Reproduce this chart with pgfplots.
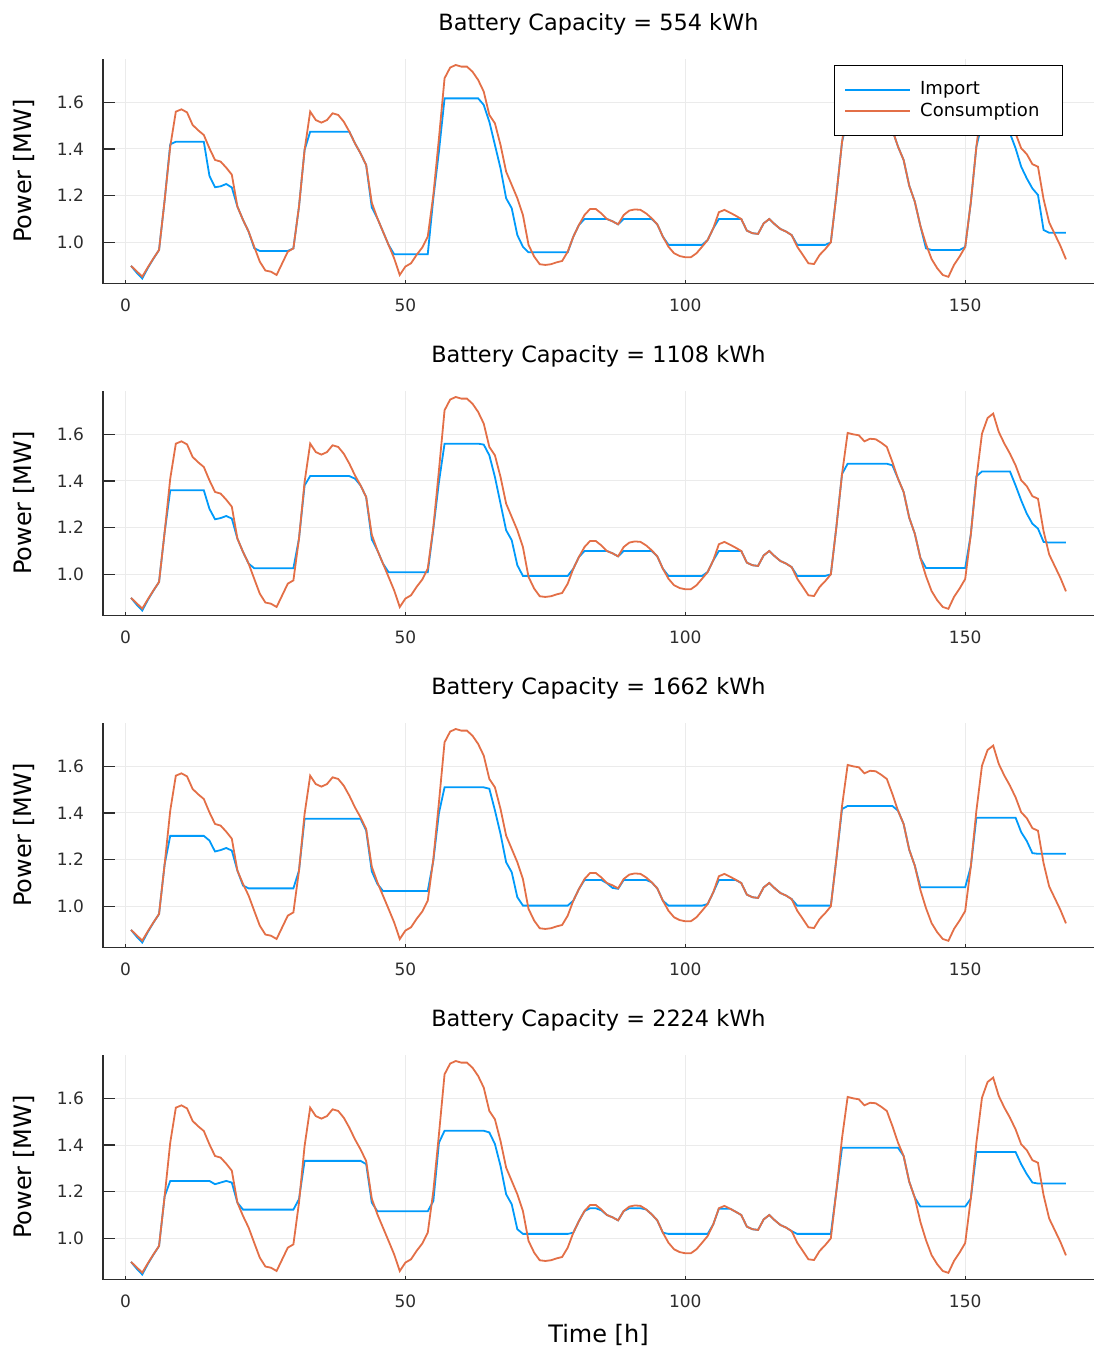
\documentclass[border=0pt]{standalone}
\usepackage{fontspec}
\setmainfont{DejaVu Sans}
\usepackage{pgfplots}
\usepackage{pgfplotstable}
\pgfplotsset{compat=1.18}
\definecolor{cimp}{RGB}{0,154,250}
\definecolor{ccons}{RGB}{227,111,71}
\definecolor{axc}{RGB}{45,45,45}

\pgfplotstableread{
h c i1 i2 i3 i4
1 0.899 0.899 0.899 0.899 0.899
2 0.876 0.870 0.870 0.870 0.870
3 0.853 0.845 0.845 0.845 0.845
4 0.893 0.890 0.890 0.890 0.890
5 0.931 0.930 0.930 0.930 0.930
6 0.967 0.967 0.967 0.967 0.967
7 1.180 1.180 1.180 1.180 1.180
8 1.410 1.420 1.360 1.302 1.246
9 1.560 1.431 1.360 1.302 1.246
10 1.570 1.431 1.360 1.302 1.246
11 1.557 1.431 1.360 1.302 1.246
12 1.503 1.431 1.360 1.302 1.246
13 1.480 1.431 1.360 1.302 1.246
14 1.460 1.431 1.360 1.302 1.246
15 1.403 1.285 1.281 1.282 1.246
16 1.353 1.236 1.236 1.235 1.232
17 1.346 1.240 1.241 1.241 1.239
18 1.320 1.250 1.250 1.250 1.246
19 1.290 1.235 1.239 1.239 1.239
20 1.153 1.153 1.153 1.153 1.153
21 1.096 1.096 1.096 1.089 1.123
22 1.046 1.046 1.046 1.077 1.123
23 0.981 0.975 1.026 1.077 1.123
24 0.917 0.963 1.026 1.077 1.123
25 0.879 0.963 1.026 1.077 1.123
26 0.874 0.963 1.026 1.077 1.123
27 0.860 0.963 1.026 1.077 1.123
28 0.910 0.963 1.026 1.077 1.123
29 0.960 0.963 1.026 1.077 1.123
30 0.974 0.974 1.026 1.077 1.123
31 1.153 1.153 1.153 1.153 1.168
32 1.396 1.396 1.381 1.375 1.332
33 1.560 1.474 1.421 1.375 1.332
34 1.524 1.474 1.421 1.375 1.332
35 1.513 1.474 1.421 1.375 1.332
36 1.524 1.474 1.421 1.375 1.332
37 1.553 1.474 1.421 1.375 1.332
38 1.546 1.474 1.421 1.375 1.332
39 1.517 1.474 1.421 1.375 1.332
40 1.474 1.474 1.421 1.375 1.332
41 1.424 1.424 1.410 1.375 1.332
42 1.381 1.381 1.381 1.375 1.332
43 1.331 1.331 1.331 1.325 1.318
44 1.170 1.150 1.150 1.150 1.153
45 1.103 1.103 1.103 1.096 1.116
46 1.046 1.046 1.046 1.066 1.116
47 0.989 0.989 1.009 1.066 1.116
48 0.931 0.949 1.009 1.066 1.116
49 0.860 0.949 1.009 1.066 1.116
50 0.896 0.949 1.009 1.066 1.116
51 0.910 0.949 1.009 1.066 1.116
52 0.946 0.949 1.009 1.066 1.116
53 0.977 0.949 1.009 1.066 1.116
54 1.024 0.949 1.009 1.066 1.116
55 1.203 1.190 1.196 1.196 1.160
56 1.446 1.390 1.396 1.400 1.410
57 1.703 1.617 1.560 1.510 1.461
58 1.749 1.617 1.560 1.510 1.461
59 1.760 1.617 1.560 1.510 1.461
60 1.753 1.617 1.560 1.510 1.461
61 1.753 1.617 1.560 1.510 1.461
62 1.731 1.617 1.560 1.510 1.461
63 1.696 1.617 1.560 1.510 1.461
64 1.646 1.589 1.556 1.510 1.461
65 1.546 1.517 1.510 1.504 1.454
66 1.510 1.417 1.417 1.411 1.404
67 1.417 1.317 1.303 1.310 1.310
68 1.303 1.189 1.189 1.189 1.189
69 1.246 1.146 1.146 1.146 1.146
70 1.189 1.031 1.039 1.039 1.039
71 1.117 0.981 0.993 1.003 1.019
72 0.989 0.957 0.993 1.003 1.019
73 0.939 0.957 0.993 1.003 1.019
74 0.906 0.957 0.993 1.003 1.019
75 0.903 0.957 0.993 1.003 1.019
76 0.906 0.957 0.993 1.003 1.019
77 0.914 0.957 0.993 1.003 1.019
78 0.920 0.957 0.993 1.003 1.019
79 0.960 0.957 0.993 1.003 1.019
80 1.024 1.024 1.024 1.024 1.024
81 1.074 1.074 1.074 1.074 1.074
82 1.117 1.100 1.100 1.113 1.117
83 1.143 1.100 1.100 1.113 1.129
84 1.143 1.100 1.100 1.113 1.129
85 1.124 1.100 1.100 1.113 1.120
86 1.100 1.100 1.100 1.099 1.100
87 1.090 1.090 1.090 1.079 1.090
88 1.077 1.077 1.077 1.075 1.077
89 1.117 1.100 1.100 1.113 1.117
90 1.136 1.100 1.100 1.113 1.129
91 1.141 1.100 1.100 1.113 1.129
92 1.139 1.100 1.100 1.113 1.129
93 1.124 1.100 1.100 1.113 1.124
94 1.103 1.100 1.100 1.103 1.103
95 1.077 1.077 1.077 1.077 1.077
96 1.024 1.024 1.024 1.024 1.024
97 0.981 0.989 0.993 1.003 1.019
98 0.953 0.989 0.993 1.003 1.019
99 0.941 0.989 0.993 1.003 1.019
100 0.936 0.989 0.993 1.003 1.019
101 0.936 0.989 0.993 1.003 1.019
102 0.953 0.989 0.993 1.003 1.019
103 0.981 0.989 0.993 1.003 1.019
104 1.010 1.010 1.010 1.010 1.019
105 1.060 1.060 1.060 1.060 1.060
106 1.129 1.100 1.100 1.113 1.127
107 1.139 1.100 1.100 1.113 1.127
108 1.127 1.100 1.100 1.113 1.127
109 1.114 1.100 1.100 1.113 1.114
110 1.100 1.100 1.100 1.100 1.100
111 1.050 1.050 1.050 1.050 1.050
112 1.039 1.039 1.039 1.039 1.039
113 1.036 1.036 1.036 1.036 1.036
114 1.081 1.081 1.081 1.081 1.081
115 1.100 1.100 1.100 1.100 1.100
116 1.077 1.077 1.077 1.077 1.077
117 1.057 1.057 1.057 1.057 1.057
118 1.046 1.046 1.046 1.046 1.046
119 1.031 1.031 1.031 1.031 1.031
120 0.981 0.989 0.993 1.003 1.019
121 0.946 0.989 0.993 1.003 1.019
122 0.910 0.989 0.993 1.003 1.019
123 0.907 0.989 0.993 1.003 1.019
124 0.946 0.989 0.993 1.003 1.019
125 0.971 0.989 0.993 1.003 1.019
126 1.000 1.000 1.000 1.003 1.019
127 1.205 1.205 1.205 1.205 1.205
128 1.430 1.430 1.430 1.417 1.388
129 1.606 1.530 1.474 1.430 1.388
130 1.600 1.530 1.474 1.430 1.388
131 1.596 1.530 1.474 1.430 1.388
132 1.570 1.530 1.474 1.430 1.388
133 1.581 1.530 1.474 1.430 1.388
134 1.579 1.530 1.474 1.430 1.388
135 1.564 1.530 1.474 1.430 1.388
136 1.546 1.530 1.474 1.430 1.388
137 1.481 1.481 1.467 1.430 1.388
138 1.410 1.410 1.410 1.410 1.388
139 1.353 1.353 1.353 1.353 1.353
140 1.243 1.243 1.243 1.243 1.243
141 1.174 1.174 1.174 1.174 1.174
142 1.070 1.070 1.070 1.082 1.136
143 0.992 0.974 1.027 1.082 1.136
144 0.928 0.967 1.027 1.082 1.136
145 0.889 0.967 1.027 1.082 1.136
146 0.860 0.967 1.027 1.082 1.136
147 0.852 0.967 1.027 1.082 1.136
148 0.903 0.967 1.027 1.082 1.136
149 0.939 0.967 1.027 1.082 1.136
150 0.980 0.980 1.027 1.082 1.136
151 1.170 1.170 1.170 1.170 1.170
152 1.410 1.410 1.420 1.380 1.370
153 1.603 1.510 1.441 1.380 1.370
154 1.670 1.510 1.441 1.380 1.370
155 1.689 1.510 1.441 1.380 1.370
156 1.610 1.510 1.441 1.380 1.370
157 1.560 1.510 1.441 1.380 1.370
158 1.517 1.467 1.441 1.380 1.370
159 1.467 1.403 1.381 1.380 1.370
160 1.403 1.324 1.317 1.318 1.318
161 1.378 1.274 1.260 1.280 1.275
162 1.335 1.231 1.217 1.228 1.239
163 1.324 1.203 1.196 1.225 1.235
164 1.185 1.053 1.139 1.225 1.235
165 1.085 1.041 1.136 1.225 1.235
166 1.035 1.041 1.136 1.225 1.235
167 0.985 1.041 1.136 1.225 1.235
168 0.927 1.041 1.136 1.225 1.235
}\data

\pgfplotsset{panel/.style={
  scale only axis, width=495.5pt, height=112.45pt,
  xmin=-4.01, xmax=173.01, ymin=0.823, ymax=1.787,
  axis x line*=bottom, axis y line*=left,
  axis line style={axc, line width=0.7pt, -},
  xtick={0,50,100,150}, ytick={1.0,1.2,1.4,1.6},
  /pgf/number format/assume math mode=true,
  yticklabel style={/pgf/number format/fixed,/pgf/number format/fixed zerofill,/pgf/number format/precision=1, xshift=-6pt},
  xticklabel style={yshift=-4.3pt},
  tick label style={font=\fontsize{8.5}{10}\selectfont, text=axc},
  grid=major, major grid style={black!8, line width=0.5pt},
  tick align=inside, major tick length=6pt, tick style={axc, line width=0.7pt},
  xtick style={/pgfplots/major tick length=2pt},
  title style={font=\fontsize{11.2}{13}\selectfont, at={(0.5,1)}, anchor=center, yshift=11.3pt},
  ylabel={Power [MW]},
  ylabel style={font=\fontsize{12}{14}\selectfont, at={(axis description cs:-0.0797,0.5)}, anchor=center},
}}

\begin{document}
\begin{tikzpicture}
\path[use as bounding box] (0,0) rectangle (547pt,-676pt);
\begin{axis}[panel, at={(51.5pt,-29.35pt)}, anchor=north west,
  title={Battery Capacity = 554 kWh},
  legend style={at={(0.9687,0.972)}, anchor=north east, draw=black, line width=0.6pt,
    font=\fontsize{9}{11}\selectfont, inner xsep=5pt, inner ysep=6pt, row sep=-1.5pt,
    column sep=2.5pt, cells={anchor=west}},
  legend cell align=left,
  legend image code/.code={\draw[#1, line width=1pt] (0pt,0pt) -- (32.5pt,0pt);}]
\addplot[cimp, line width=0.9pt] table[x=h,y=i1]{\data};
\addlegendentry{Import}
\addplot[ccons, line width=0.9pt] table[x=h,y=c]{\data};
\addlegendentry{Consumption\hspace*{4.5pt}}
\end{axis}
\begin{axis}[panel, at={(51.5pt,-195.35pt)}, anchor=north west,
  title={Battery Capacity = 1108 kWh}]
\addplot[cimp, line width=0.9pt] table[x=h,y=i2]{\data};
\addplot[ccons, line width=0.9pt] table[x=h,y=c]{\data};
\end{axis}
\begin{axis}[panel, at={(51.5pt,-361.35pt)}, anchor=north west,
  title={Battery Capacity = 1662 kWh}]
\addplot[cimp, line width=0.9pt] table[x=h,y=i3]{\data};
\addplot[ccons, line width=0.9pt] table[x=h,y=c]{\data};
\end{axis}
\begin{axis}[panel, at={(51.5pt,-527.35pt)}, anchor=north west,
  title={Battery Capacity = 2224 kWh},
  xlabel={Time [h]},
  xlabel style={font=\fontsize{12}{14}\selectfont, at={(axis description cs:0.5,0)}, anchor=center, yshift=-27.7pt}]
\addplot[cimp, line width=0.9pt] table[x=h,y=i4]{\data};
\addplot[ccons, line width=0.9pt] table[x=h,y=c]{\data};
\end{axis}
\end{tikzpicture}
\end{document}
